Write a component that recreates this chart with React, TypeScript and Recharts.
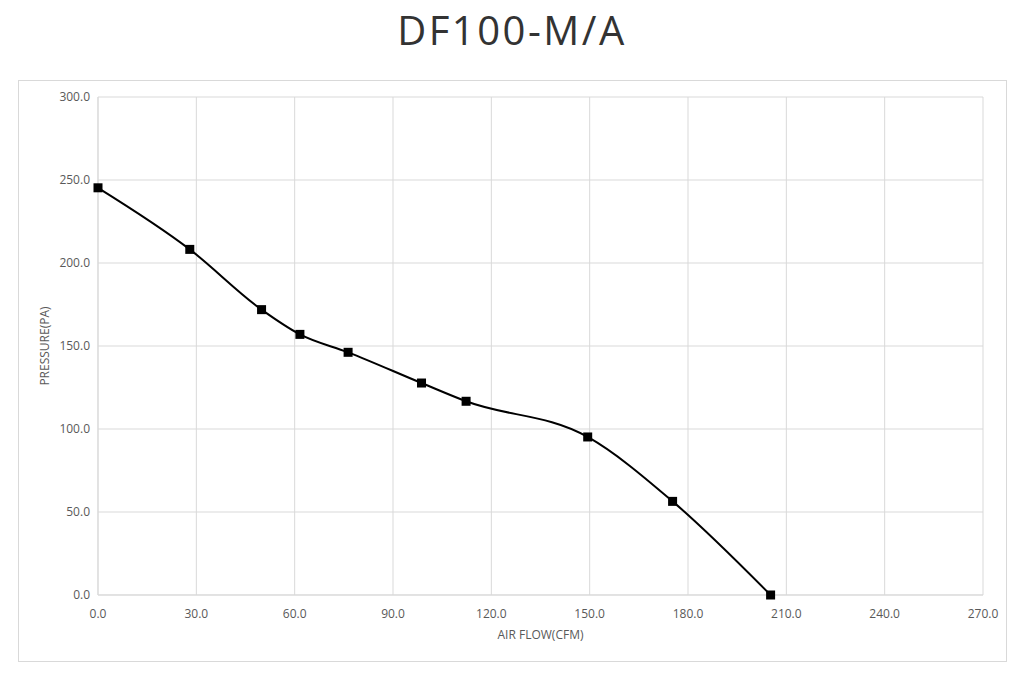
import { CartesianGrid, Line, LineChart, XAxis, YAxis } from 'recharts';

const airFlow = [0, 28, 49.9, 61.6, 76.3, 98.7, 112.3, 149.4, 175.3, 205.2];
const pressure = [245.3, 208.2, 171.9, 157, 146.2, 127.7, 116.7, 95.2, 56.4, 0];
const xTicks = [0, 30, 60, 90, 120, 150, 180, 210, 240, 270];
const yTicks = [0, 50, 100, 150, 200, 250, 300];

const data = airFlow.map((x, i) => ({ x, p: pressure[i] }));

const font = '"Open Sans", sans-serif';
const grid = '#d9d9d9';
const tickStyle = { fontSize: 12, fill: '#595959', fontFamily: font };

function SquareDot({ cx, cy, index }: { cx?: number; cy?: number; index?: number }) {
  if (cx == null || cy == null) return null;
  return <rect key={`dot-${index}`} x={cx - 4.5} y={cy - 4.5} width={9} height={9} fill="#000" />;
}

export default function App() {
  return (
    <div style={{ position: 'absolute', left: 0, top: 0, width: 1024, height: 684, background: '#fff' }}>
      <svg width={1024} height={70} style={{ position: 'absolute', left: 0, top: 0 }}>
        <text
          x={512}
          y={45}
          textAnchor="middle"
          fontFamily={font}
          fontSize={40}
          letterSpacing={2.5}
          fill="#333"
        >
          DF100-M/A
        </text>
      </svg>
      <div
        style={{
          position: 'absolute',
          left: 18,
          top: 80,
          width: 987,
          height: 580,
          border: `1px solid ${grid}`,
        }}
      />
      <div style={{ position: 'absolute', left: 0, top: 0 }}>
        <LineChart width={1024} height={684} data={data} margin={{ top: 97, right: 41, bottom: 39, left: 38 }}>
          <CartesianGrid stroke={grid} strokeWidth={1} />
          <XAxis
            type="number"
            dataKey="x"
            domain={[0, 270]}
            ticks={xTicks}
            tickFormatter={(v: number) => v.toFixed(1)}
            tick={tickStyle}
            tickLine={false}
            tickMargin={8}
            axisLine={{ stroke: grid }}
            height={50}
            label={{
              value: 'AIR FLOW(CFM)',
              position: 'insideBottom',
              offset: 6,
              style: { fontSize: 12, fill: '#595959', fontFamily: font },
            }}
          />
          <YAxis
            type="number"
            domain={[0, 300]}
            ticks={yTicks}
            tickFormatter={(v: number) => v.toFixed(1)}
            tick={tickStyle}
            tickLine={false}
            axisLine={{ stroke: grid }}
            width={60}
            label={{
              value: 'PRESSURE(PA)',
              angle: -90,
              position: 'insideLeft',
              offset: 7,
              style: { fontSize: 12, fill: '#595959', fontFamily: font, textAnchor: 'middle' },
            }}
          />
          <Line
            type="monotone"
            dataKey="p"
            stroke="#000"
            strokeWidth={2}
            dot={(props: any) => <SquareDot key={`d-${props.index}`} {...props} />}
            activeDot={false}
            isAnimationActive={false}
          />
        </LineChart>
      </div>
    </div>
  );
}
